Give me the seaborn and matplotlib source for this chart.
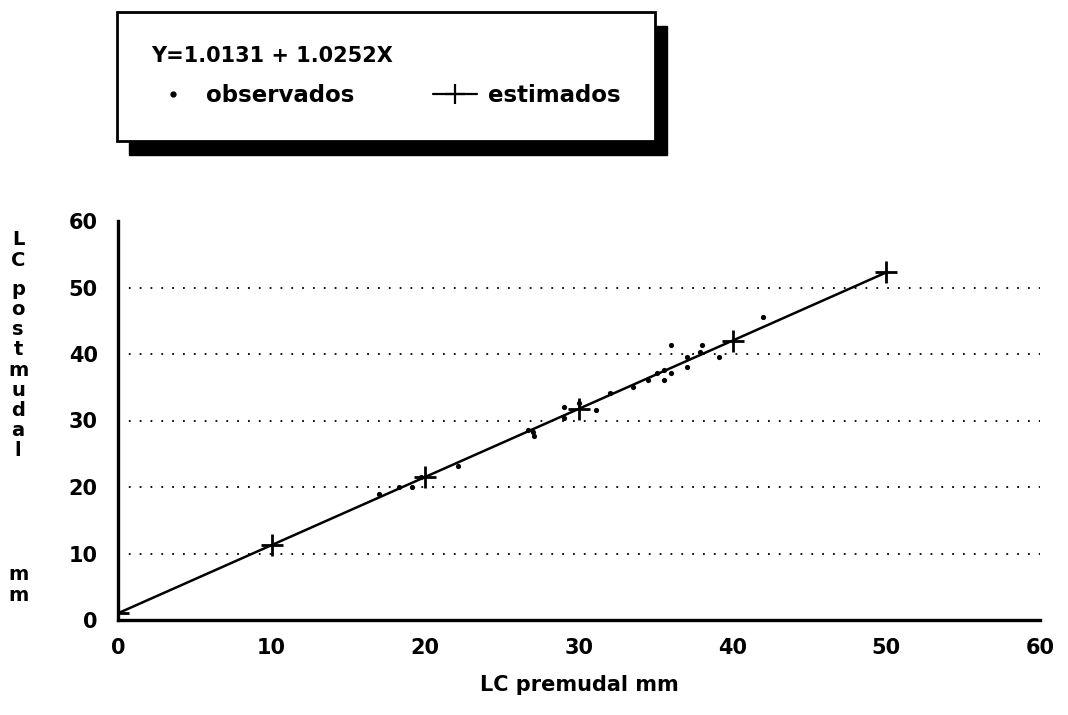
import matplotlib
matplotlib.use("Agg")
import matplotlib.pyplot as plt
import seaborn as sns
import pandas as pd
import numpy as np
from matplotlib.patches import Rectangle
from matplotlib.lines import Line2D

# ---- data ----
obs_x = [17.0, 18.3, 19.1, 19.7, 22.1, 26.7, 27.1, 27.0, 29.0, 29.0, 30.0, 31.1,
         32.0, 33.5, 34.5, 35.1, 35.5, 35.5, 36.0, 36.0, 37.0, 37.0, 38.0, 37.9,
         39.1, 42.0]
obs_y = [18.9, 20.0, 20.0, 21.5, 23.2, 28.6, 27.7, 28.2, 30.4, 32.1, 32.6, 31.6,
         34.1, 35.1, 36.1, 37.1, 36.1, 37.6, 37.1, 41.4, 38.1, 39.6, 41.4, 40.3,
         39.6, 45.6]
est_x = [0, 10, 20, 30, 40, 50]
est_y = [1.0131, 11.2651, 21.5171, 31.7691, 42.0211, 52.2731]
x_ticks = [0, 10, 20, 30, 40, 50, 60]
y_ticks = [0, 10, 20, 30, 40, 50, 60]
x_tick_labels = ["0", "10", "20", "30", "40", "50", "60"]
y_tick_labels = ["0", "10", "20", "30", "40", "50", "60"]
equation = "Y=1.0131 + 1.0252X"
label_obs = "observados"
label_est = "estimados"
x_label = "LC premudal mm"
y_label_groups = ["L\nC", "p\no\ns\nt\nm\nu\nd\na\nl", "m\nm"]

sns.set_style("white")
plt.rcParams['font.family'] = ['DejaVu Sans']
plt.rcParams['font.weight'] = 'bold'
plt.rcParams['text.color'] = 'black'
plt.rcParams['axes.labelcolor'] = 'black'
plt.rcParams['xtick.color'] = 'black'
plt.rcParams['ytick.color'] = 'black'

fig = plt.figure(figsize=(10.68, 7.15), dpi=100)
ax = fig.add_axes([118/1068, 1 - 620/715, (1040-118)/1068, (620-221)/715])

df_obs = pd.DataFrame({"x": obs_x, "y": obs_y})
df_est = pd.DataFrame({"x": est_x, "y": est_y})

sns.lineplot(data=df_est, x="x", y="y", ax=ax, color="black", linewidth=1.8,
             marker="+", markersize=16, markeredgewidth=2.0,
             markeredgecolor="black", zorder=3)
sns.scatterplot(data=df_obs, x="x", y="y", ax=ax, color="black", marker="o",
                s=14, linewidth=0, zorder=4)

ax.set_xlim(0, 60)
ax.set_ylim(0, 60)
ax.set_xticks(x_ticks)
ax.set_xticklabels(x_tick_labels, fontsize=15, fontweight="bold", color="black")
ax.set_yticks(y_ticks)
ax.set_yticklabels(y_tick_labels, fontsize=15, fontweight="bold", color="black")
ax.tick_params(axis="y", direction="inout", length=15, width=1.6, color="black", pad=7)
ax.tick_params(axis="x", direction="out", length=9, width=1.6, color="black", pad=4)
ax.set_xlabel(x_label, fontsize=15, fontweight="bold", labelpad=12, color="black")
ax.set_ylabel("")

for s in ["top", "right"]:
    ax.spines[s].set_visible(False)
for s in ["left", "bottom"]:
    ax.spines[s].set_color("black")
    ax.spines[s].set_linewidth(2.4)

ax.yaxis.grid(True, linestyle=(0, (1, 5)), color="black", linewidth=1.3)
gl = ax.get_ygridlines()
gl[0].set_visible(False)
gl[-1].set_visible(False)
ax.set_axisbelow(True)

# vertical stacked y-axis label
y_centers = [250, 370, 585]
for txt, yc in zip(y_label_groups, y_centers):
    fig.text(18/1068, 1 - yc/715, txt, ha="center", va="center", color="black",
             fontsize=14, fontweight="bold", linespacing=1.08, multialignment="center")

# legend
h_obs = Line2D([], [], color="black", marker="o", markersize=3.5, linestyle="none")
h_est = Line2D([], [], color="black", marker="+", markersize=15, markeredgewidth=1.6,
               linewidth=1.6)
top = 1 - 12/715
leg = fig.legend([h_obs, h_est], [label_obs, label_est], ncol=2,
                 title=equation, title_fontproperties={"size": 15, "weight": "bold"},
                 prop={"size": 16.5, "weight": "bold"}, alignment="left",
                 loc="upper left",
                 bbox_to_anchor=(117/1068, top - 0.3, (655-117)/1068, 0.3),
                 mode="expand", frameon=True, fancybox=False, shadow=False,
                 framealpha=1.0, borderpad=1.5, labelspacing=0.75, borderaxespad=0,
                 handlelength=1.9, columnspacing=2.0, handletextpad=0.5)
for t in leg.get_texts():
    t.set_color("black")
leg.get_title().set_color("black")
frame = leg.get_frame()
frame.set_edgecolor("black")
frame.set_linewidth(2.0)
frame.set_facecolor("white")
leg.set_zorder(5)

fig.canvas.draw()
bb = leg.get_window_extent().transformed(fig.transFigure.inverted())
off_x, off_y = 12/1068, 14/715
shadow = Rectangle((bb.x0 + off_x, bb.y0 - off_y), bb.width, bb.height,
                   transform=fig.transFigure, facecolor="black", edgecolor="black",
                   zorder=1)
fig.patches.append(shadow)

fig.savefig("out.png", dpi=100)
